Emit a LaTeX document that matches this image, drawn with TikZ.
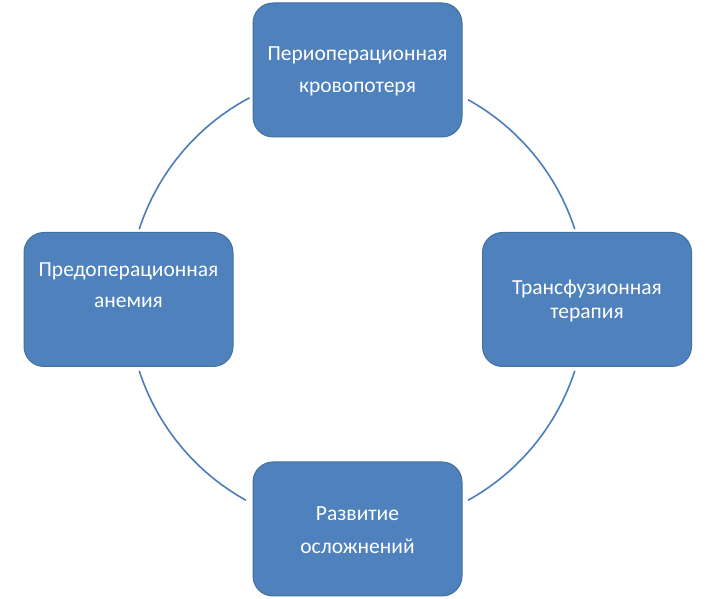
\documentclass[tikz,border=0pt]{standalone}
\usepackage{fontspec}
\setmainfont{Carlito}
\definecolor{boxfill}{HTML}{4F81BD}
\definecolor{boxline}{HTML}{41719C}
\definecolor{arcline}{HTML}{4A7EBB}
\begin{document}
\begin{tikzpicture}[x=1pt,y=1pt,
  cyclebox/.style={draw=boxline, line width=1pt, fill=boxfill, rounded corners=20pt,
    minimum width=209pt, minimum height=134pt, inner sep=0pt},
  boxtext/.style={text=white, align=center, inner sep=0pt},
  cyclearc/.style={draw=arcline, line width=1.6pt}]
\useasboundingbox (0,0) rectangle (709,599);
\coordinate (c) at (357,299);
% arcs
\draw[cyclearc] ([shift={(18:229pt)}]c) arc[start angle=18, end angle=61, radius=229pt];
\draw[cyclearc] ([shift={(118:229pt)}]c) arc[start angle=118, end angle=162, radius=229pt];
\draw[cyclearc] ([shift={(198:229pt)}]c) arc[start angle=198, end angle=241, radius=229pt];
\draw[cyclearc] ([shift={(299:229pt)}]c) arc[start angle=299, end angle=342, radius=229pt];
% boxes
\node[cyclebox] (top) at (357.5,529) {};
\node[cyclebox] (right) at (587,299.5) {};
\node[cyclebox] (bottom) at (357.5,70) {};
\node[cyclebox] (left) at (128.5,299.5) {};
% texts
\node[boxtext, font=\fontsize{21.5}{32}\selectfont] (toptext) at (357.5,528) {Периоперационная\\кровопотеря};
\node[boxtext, font=\fontsize{21.5}{24}\selectfont] (righttext) at (587,298) {Трансфузионная\\терапия};
\node[boxtext, font=\fontsize{21.5}{33}\selectfont] (bottomtext) at (357.5,69) {Развитие\\осложнений};
\node[boxtext, font=\fontsize{21.5}{31}\selectfont] (lefttext) at (128.5,314) {Предоперационная\\анемия};
\end{tikzpicture}
\end{document}
